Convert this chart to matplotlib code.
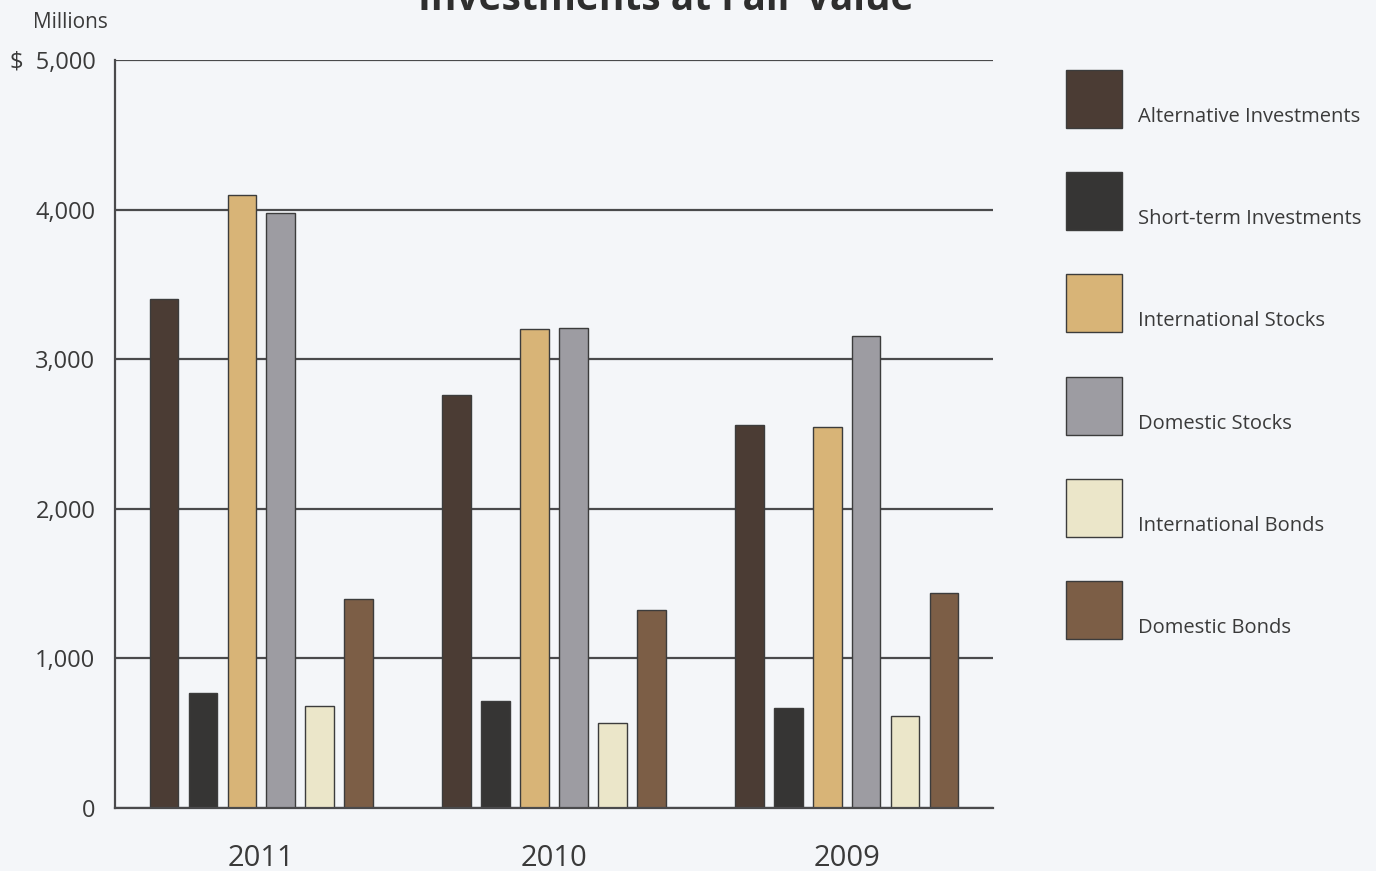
import numpy as np
import matplotlib.pyplot as plt
from matplotlib.patches import Rectangle

plt.rcParams['font.family'] = ['Open Sans', 'DejaVu Sans']

years = ['2011', '2010', '2009']
series = ['Alternative Investments', 'Short-term Investments', 'International Stocks',
          'Domestic Stocks', 'International Bonds', 'Domestic Bonds']
# values in $ millions, one list per series, ordered as years
alternative = [3400, 2760, 2560]
short_term = [770, 715, 670]
intl_stocks = [4100, 3200, 2550]
dom_stocks = [3980, 3210, 3155]
intl_bonds = [680, 570, 615]
dom_bonds = [1395, 1325, 1440]
colors = ['#4b3c34', '#363534', '#d8b477', '#9d9ca2', '#ebe6c9', '#7c5e46']
yticks = [0, 1000, 2000, 3000, 4000, 5000]

values = [alternative, short_term, intl_stocks, dom_stocks, intl_bonds, dom_bonds]

bg = '#f4f6f9'
ink = '#4a4a4c'

fig = plt.figure(figsize=(13.76, 8.71), dpi=100, facecolor=bg)
ax = fig.add_axes([115 / 1376, 1 - 808 / 871, 878 / 1376, 748 / 871])
ax.set_facecolor(bg)

x = np.arange(len(years))
step = 0.133
width = 0.098
for i, (vals, c) in enumerate(zip(values, colors)):
    ax.bar(x + (i - 2.5) * step, vals, width, color=c, edgecolor='#3c3c3c',
           linewidth=1, zorder=3)

ax.set_xlim(-0.5, 2.5)
ax.set_ylim(0, 5000)
ax.set_yticks(yticks)
ax.set_yticklabels(['$  5,000' if v == 5000 else ('0' if v == 0 else f'{v:,}')
                    for v in yticks], fontsize=17, color='#3a3a3a')
ax.set_xticks(x)
ax.set_xticklabels(years, fontsize=21, color='#3a3a3a')
ax.tick_params(axis='both', length=0)
ax.tick_params(axis='y', pad=14)
ax.tick_params(axis='x', pad=26)
ax.yaxis.grid(True, color=ink, linewidth=1.6, zorder=1)
ax.set_axisbelow(True)
for s in ['top', 'right']:
    ax.spines[s].set_visible(False)
for s in ['left', 'bottom']:
    ax.spines[s].set_color(ink)
    ax.spines[s].set_linewidth(1.6)
ax.spines['bottom'].set_zorder(4)

fig.text(33 / 1376, 1 - 22 / 871, 'Millions', fontsize=15, color='#3a3a3a',
         ha='left', va='center')
fig.text(666 / 1376, 1 - 10 / 871, 'Investments at Fair Value', fontsize=28,
         fontweight='bold', color='#2e2e2e', ha='center', va='baseline')

# legend: swatch with label set low beside it
for i, (name, c) in enumerate(zip(series, colors)):
    top = 70 + i * 102.2
    fig.add_artist(Rectangle((1066 / 1376, 1 - (top + 58) / 871), 56 / 1376, 58 / 871,
                             transform=fig.transFigure, facecolor=c,
                             edgecolor='#3c3c3c', linewidth=1))
    fig.text(1138 / 1376, 1 - (top + 47) / 871, name, fontsize=14.5,
             color='#3a3a3a', ha='left', va='center')

fig.savefig('out.png', dpi=100, facecolor=bg)
